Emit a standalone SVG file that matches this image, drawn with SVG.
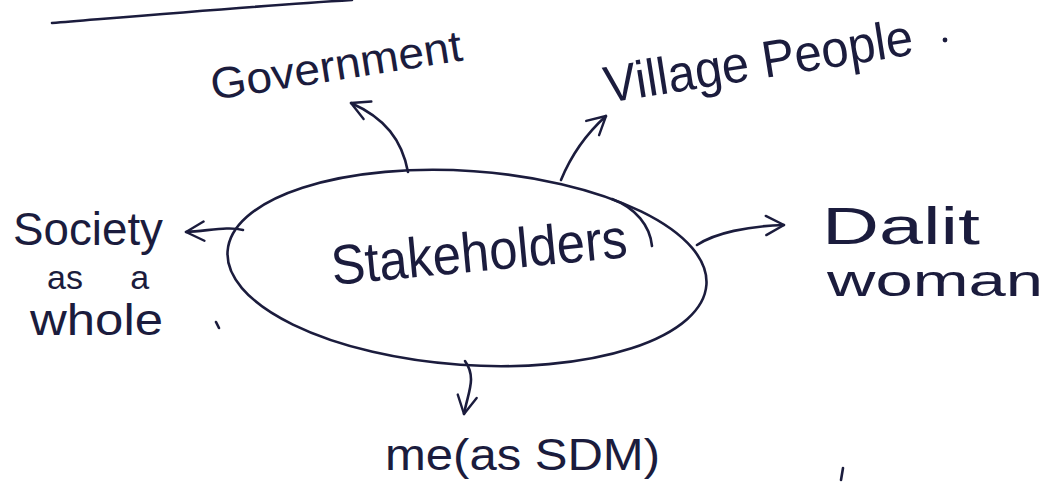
<svg xmlns="http://www.w3.org/2000/svg" width="1050" height="482" viewBox="0 0 1050 482">
<style>
.ink{fill:none;stroke:#1b1c3d;stroke-width:2.6;stroke-linecap:round;stroke-linejoin:round}
.t{font-family:"Liberation Sans","DejaVu Sans",sans-serif;fill:#1b1c3d}
</style>
<defs>
<marker id="ah" viewBox="0 0 12 12" refX="10" refY="6" markerWidth="24" markerHeight="24" markerUnits="userSpaceOnUse" orient="auto">
<path d="M1,1.2 L10,6 L1,10.8" fill="none" stroke="#1b1c3d" stroke-width="1.2" stroke-linecap="round" stroke-linejoin="round"/>
</marker>
</defs>
<rect width="1050" height="482" fill="#ffffff"/>
<path class="ink" d="M52,23 C150,15 255,6 352,0"/>
<g id="stakeholders">
<ellipse class="ink" cx="467" cy="268" rx="240" ry="97" transform="rotate(4 467 268)"/>
<path class="ink" d="M612,199 C636,208 650,226 652,246" stroke-width="2"/>
<text class="t" x="333" y="285" font-size="56" textLength="297" lengthAdjust="spacingAndGlyphs" transform="rotate(-5.4 333 285)">Stakeholders</text>
</g>
<g id="government">
<text class="t" x="213" y="100" font-size="44" textLength="254" lengthAdjust="spacingAndGlyphs" transform="rotate(-9 213 100)">Government</text>
</g>
<g id="village">
<text class="t" x="607" y="103" font-size="52" textLength="312" lengthAdjust="spacingAndGlyphs" transform="rotate(-9 607 103)">Village People</text>
<circle cx="945" cy="40" r="2.4" fill="#1b1c3d"/>
</g>
<g id="society">
<text class="t" x="13" y="245" font-size="46" textLength="150" lengthAdjust="spacingAndGlyphs">Society</text>
<text class="t" x="47" y="289" font-size="34" word-spacing="38">as a</text>
<text class="t" x="30" y="335" font-size="44" textLength="133" lengthAdjust="spacingAndGlyphs">whole</text>
<path class="ink" d="M216,322 L219,328" stroke-width="2.2"/>
</g>
<g id="dalit">
<text class="t" x="822" y="244" font-size="52" textLength="158" lengthAdjust="spacingAndGlyphs">Dalit</text>
<text class="t" x="827" y="296" font-size="44" textLength="216" lengthAdjust="spacingAndGlyphs">woman</text>
</g>
<g id="me">
<text class="t" x="385" y="470" font-size="44" textLength="275" lengthAdjust="spacingAndGlyphs">me(as SDM)</text>
</g>
<g id="connectors">
<path class="ink" d="M408,172 C402,140 385,118 351,103" marker-end="url(#ah)"/>
<path class="ink" d="M561,180 C570,158 585,135 606,116" marker-end="url(#ah)"/>
<path class="ink" d="M243,230 C228,226 208,231 186,232" marker-end="url(#ah)"/>
<path class="ink" d="M697,245 C715,233 748,226 784,225" marker-end="url(#ah)"/>
<path class="ink" d="M465,361 C477,378 468,392 464,414" marker-end="url(#ah)"/>
<path class="ink" d="M843,468 L841,480" stroke-width="2"/>
</g>
</svg>
